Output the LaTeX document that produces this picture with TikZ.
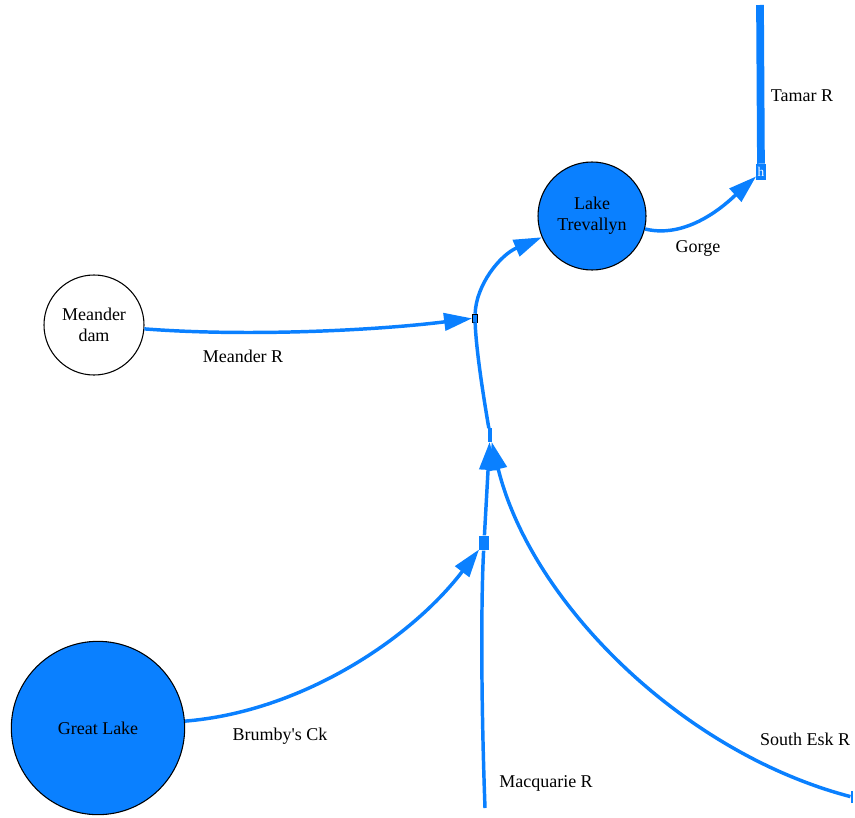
\documentclass[tikz,border=0pt]{standalone}
\usepackage{fontspec}
\setmainfont{Liberation Serif}
\usetikzlibrary{arrows.meta}
\definecolor{riverblue}{HTML}{0A80FF}
\tikzset{
  lake/.style={circle, draw=black, thick, align=center, inner sep=0pt},
  junction/.style={rectangle, fill=riverblue, inner sep=0pt},
  river/.style={draw=riverblue, line width=2.6pt, -{Triangle[length=21pt,width=13pt]}},
  flow/.style={draw=riverblue, line width=2.6pt},
  lbl/.style={font=\fontsize{13.5}{16}\selectfont}
}
\begin{document}
\begin{tikzpicture}[x=0.75pt, y=-0.75pt, font=\fontsize{13.5}{16}\selectfont]
    \useasboundingbox (0,0) rectangle (855,817);
    % lakes
    \node[lake, minimum size=75pt] (meander) at (94,325) {Meander\\dam};
    \node[lake, fill=riverblue, minimum size=81pt] (trevallyn) at (592,216) {Lake\\Trevallyn};
    \node[lake, fill=riverblue, minimum size=130pt] (great) at (98,728) {Great Lake};
    % junctions
    \node[junction, draw=black, thin, minimum width=4pt, minimum height=6pt] (j1) at (475,318) {};
    \node[junction, minimum width=3pt, minimum height=10pt] (j2) at (490,435) {};
    \node[junction, minimum width=7pt, minimum height=11pt] (j3) at (484,543) {};
    \node[junction, minimum width=7pt, minimum height=12pt, text=white, font=\fontsize{10}{10}\selectfont] (j4) at (761,172) {h};
    \node[junction, minimum width=2pt, minimum height=9pt] (esk) at (852,797) {};
    \coordinate (tamar) at (760,5);
    \coordinate (macq) at (485,808);
    % rivers
    \draw[river] (meander) .. controls (250,337) and (380,330) .. (j1);
    \draw[river] (j1) .. controls (476,285) and (500,255) .. (trevallyn);
    \draw[flow] (j2) .. controls (484,400) and (476,350) .. (j1);
    \draw[river] (trevallyn) .. controls (690,240) and (730,200) .. (j4);
    \draw[draw=riverblue, line width=5.8pt] (tamar) -- (j4);
    \draw[river] (great) .. controls (300,712) and (410,640) .. (j3);
    \draw[flow] (macq) .. controls (481,700) and (481,600) .. (j3);
    \draw[river] (j3) -- (j2);
    \draw[river] (esk) .. controls (680,752) and (530,600) .. (j2);
    % labels
    \node at (802,96) {Tamar R};
    \node at (698,248) {Gorge};
    \node at (243,356) {Meander R};
    \node at (280,736) {Brumby\textquotesingle s Ck};
    \node at (546,783) {Macquarie R};
    \node at (805,739) {South Esk R};
\end{tikzpicture}
\end{document}
